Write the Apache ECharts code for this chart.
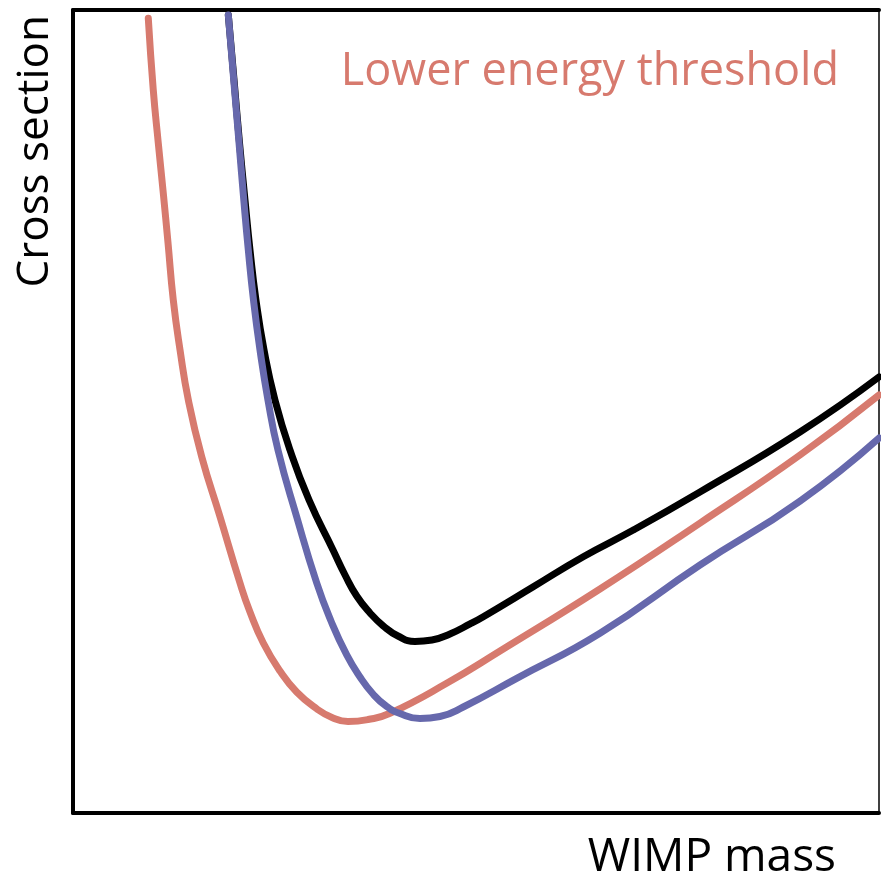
<!DOCTYPE html>
<html><head><meta charset="utf-8">
<script src="https://cdn.jsdelivr.net/npm/echarts@6/dist/echarts.min.js"></script>
<style>html,body{margin:0;padding:0;background:#fff}#c{width:881px;height:874px}</style>
</head><body><div id="c"></div>
<script>
// Values in arbitrary units (0-100 on both axes)
const blackX = [19.27,19.98,20.66,21.34,21.96,22.70,23.70,25.06,26.92,29.28,32.26,33.75,35.20,36.85,38.50,40.32,42.43,44.54,46.77,49.26,50.91,57.11,63.31,69.52,77.79,90.20,100];
const blackY = [99.38,91.28,83.44,76.34,70.11,63.89,57.66,51.43,45.21,38.98,32.75,29.64,27.02,24.91,23.29,22.04,21.36,21.54,22.29,23.54,24.45,28.18,31.92,35.24,39.98,47.45,54.30];
const blueX = [19.27,19.91,20.60,21.19,21.75,22.39,23.20,24.19,25.43,27.75,30.24,32.01,33.96,35.61,37.22,38.83,40.57,43.05,45.53,48.42,55.05,65.38,77.79,90.20,100];
const blueY = [99.38,91.66,83.44,76.34,70.11,63.89,57.66,51.43,45.21,36.90,28.64,23.91,19.68,16.94,14.82,13.33,12.39,11.77,12.02,13.20,16.77,22.38,30.88,38.85,46.70];
const redX = [9.34,9.96,10.58,11.20,11.79,12.44,13.28,14.31,15.97,18.24,20.72,21.96,23.61,25.68,27.75,30.27,32.13,34.12,36.60,39.33,46.36,52.98,65.38,77.79,90.20,100];
const redY = [98.97,90.04,83.44,77.21,70.98,63.89,57.66,51.43,44.37,36.90,28.64,25.03,21.17,17.68,15.07,12.95,11.89,11.39,11.64,12.42,16.15,20.17,27.90,36.11,44.58,52.05];
const legendText = "Lower energy threshold";
const xName = "WIMP mass";
const yName = "Cross section";

const zip = (xs, ys) => xs.map((x, i) => [x, ys[i]]);
const chart = echarts.init(document.getElementById('c'));
const noAxisBits = {axisTick:{show:false}, axisLabel:{show:false}, splitLine:{show:false}};
const lineSeries = (xs, ys, color, z) => ({
  type:'line', data:zip(xs, ys), smooth:0.5, showSymbol:false, symbol:'none',
  lineStyle:{color:color, width:7, cap:'round', join:'round'}, z:z
});
chart.setOption({
  animation:false,
  backgroundColor:'#fff',
  grid:{left:73, right:2, top:10, bottom:61},
  xAxis:[
    Object.assign({type:'value', min:0, max:100, position:'bottom',
      axisLine:{show:true, onZero:false, lineStyle:{color:'#000', width:4}}}, noAxisBits),
    Object.assign({type:'value', min:0, max:100, position:'top',
      axisLine:{show:true, onZero:false, lineStyle:{color:'#000', width:4}}}, noAxisBits)
  ],
  yAxis:[
    Object.assign({type:'value', min:0, max:100, position:'left',
      axisLine:{show:true, onZero:false, lineStyle:{color:'#000', width:4}}}, noAxisBits),
    Object.assign({type:'value', min:0, max:100, position:'right',
      axisLine:{show:true, onZero:false, lineStyle:{color:'#000', width:1.5}}}, noAxisBits)
  ],
  series:[
    lineSeries(redX, redY, '#d77a6e', 3),
    lineSeries(blackX, blackY, '#000000', 2),
    lineSeries(blueX, blueY, '#6668ac', 4)
  ],
  graphic:[
    {type:'text', right:42, top:50, style:{text:legendText, fill:'#d77a6e', font:'45px "Open Sans"'}},
    {type:'text', right:45, top:835, style:{text:xName, fill:'#000', font:'46px "Open Sans"'}},
    {type:'text', left:13, top:15, rotation:Math.PI/2, style:{text:yName, fill:'#000', font:'44px "Open Sans"'}}
  ]
});
</script></body></html>
